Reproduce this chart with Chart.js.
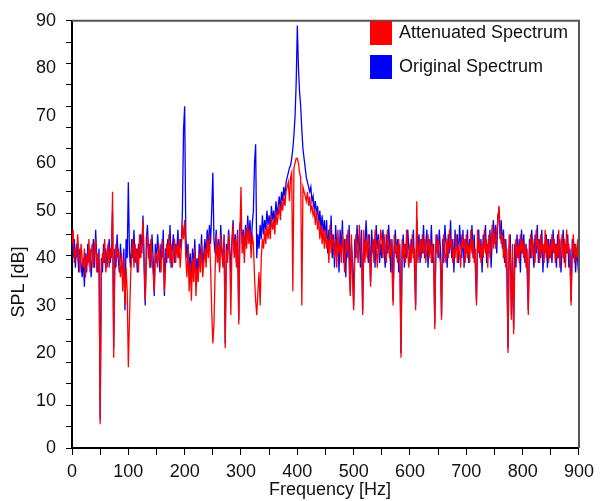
<!DOCTYPE html>
<html>
<head>
<meta charset="utf-8">
<script src="https://cdn.jsdelivr.net/npm/chart.js@4.4.1/dist/chart.umd.min.js"></script>
<style>
  html, body { margin: 0; padding: 0; background: #fff; }
  canvas { display: block; }
</style>
</head>
<body>
<canvas id="spectrum" width="600" height="501"></canvas>
<script>
// spectrum values, one entry every 2 Hz (0..900 Hz)
const stepHz = 2;

const original = [
  45,40,44,38,43,41,37,42,39,36,40,34,41,37,43,39,42,36,40,44,38,46,40,37,42,
  6,40,37,43,39,42,38,41,44,39,42,50,21,42,38,45,40,37,43,39,36,42,29,44,40,
  56,41,38,44,40,46,39,42,37,43,40,45,41,49,38,30,44,47,40,43,38,45,40,32,43,
  39,45,41,37,43,40,46,32,42,39,44,40,47,38,42,45,39,43,41,46,40,44,42,50,67,
  72,45,40,43,37,41,35,42,38,44,36,40,37,43,39,45,38,41,44,40,46,42,47,43,50,
  58,44,41,46,40,44,38,47,42,39,45,22,43,40,46,42,37,44,48,41,45,39,46,27,47,
  48,43,46,41,47,43,49,44,48,42,47,50,60,64,40,45,42,47,44,49,45,48,46,50,47,
  49,46,51,48,50,47,52,49,51,53,50,54,52,55,53,56,57,58,59,59.5,61,63,66,70,77,
  89,80,75,72,67,63,61,59,57,56,55,54,55,52,53,50,52,49,51,47,50,46,49,45,48,
  44,48,41,46,43,49,40,45,38,47,42,44,37,46,41,48,39,44,36,45,40,47,33,43,39,
  30,44,40,47,42,45,38,46,29,44,41,48,43,39,45,35,46,41,44,38,47,42,45,39,43,
  40,46,42,38,45,41,47,43,37,44,31,42,46,40,44,37,43,20,41,45,38,43,40,46,42,
  39,44,41,46,38,30,48,42,45,39,44,41,47,40,43,46,38,44,41,47,39,43,26,42,45,
  40,46,42,28,44,39,47,43,38,45,41,48,40,44,37,46,42,45,39,47,43,40,46,38,44,
  41,46,39,44,42,47,40,45,38,31,43,46,40,44,37,45,42,47,39,43,41,46,38,44,48,
  43,47,41,49,50,44,48,42,46,39,44,37,21,42,45,28,40,25,43,38,45,40,44,37,46,
  41,45,39,43,37,29,44,40,46,42,38,45,41,47,39,44,40,46,37,43,41,45,38,44,40,
  44,39,46,41,43,38,45,40,44,37,42,46,39,43,41,45,38,42,31,44,40,43,37,42,39,
  36
];

const attenuated = [
  43,46,39,42,40,45,41,37,43,40,38,42,36,40,39,44,37,41,43,38,42,44,37,41,39,
  5,37,41,39,44,37,40,43,38,42,40,54,19,38,43,40,42,39,36,41,33,40,30,38,33,
  17,27,36,41,44,38,43,39,42,37,45,40,43,48,40,31,39,45,42,38,44,40,37,33,41,
  41,38,43,40,37,44,41,33,38,43,40,45,39,43,38,41,44,39,43,40,44,38,42,47,44,
  48,40,36,42,33,39,31,40,35,42,32,38,35,41,37,43,36,39,42,38,44,40,45,38,29,
  22,26,37,45,39,43,37,45,41,38,44,21,42,39,45,41,28,43,47,40,44,38,45,26,45,
  55,41,45,39,46,42,47,43,46,40,45,43,36,31,28,33,37,30,40,44,42,46,43,47,44,
  47,44,49,46,48,45,50,47,49,51,48,52,50,53,51,54,55,56,52,57,58,33,59,60,61,
  61,60,58,57,30,55,54,53,52,54,51,53,50,51,49,50,47,50,46,48,44,47,43,46,42,
  46,42,44,39,47,41,45,43,40,44,38,46,41,43,39,45,42,37,44,41,46,38,32,45,36,
  29,40,45,42,39,47,43,41,28,46,39,44,40,45,42,34,41,44,39,46,42,38,44,41,46,
  44,40,45,41,39,46,42,40,44,38,30,45,41,43,39,44,38,19,44,40,43,39,46,41,38,
  43,39,45,40,42,29,52,39,42,44,40,45,41,44,39,42,45,40,44,39,43,40,25,45,41,
  44,41,39,27,42,45,41,39,44,40,46,42,44,39,42,40,45,39,43,41,38,45,42,44,39,
  45,40,43,39,46,41,44,39,42,30,46,41,44,39,43,40,46,41,44,38,45,40,43,47,42,
  46,42,45,48,51,46,43,45,40,44,38,42,20,45,40,27,43,24,39,44,40,43,39,45,41,
  44,40,43,38,42,28,41,45,40,44,41,39,46,42,44,39,45,41,43,39,46,40,44,39,43,
  40,45,41,44,39,43,40,46,38,42,45,40,44,38,46,41,43,39,30,41,45,39,43,40,44,
  32
];

const xLabels = [0, 100, 200, 300, 400, 500, 600, 700, 800, 900];
const yLabels = [0, 10, 20, 30, 40, 50, 60, 70, 80, 90];
const yTickMarks = [0, 4.5, 9, 13.5, 18, 22.5, 27, 31.5, 36, 40.5, 45, 49.5, 54, 58.5, 63, 67.5, 72, 76.5, 81, 85.5, 90];

const legendItems = [
  { text: 'Attenuated Spectrum', color: '#ff0000' },
  { text: 'Original Spectrum', color: '#0000ff' }
];

const freqs = original.map((v, i) => i * stepHz);
const FONT = '"Liberation Sans", Arial, sans-serif';

const framePlugin = {
  id: 'frame',
  afterDraw(chart) {
    const ctx = chart.ctx;
    const a = chart.chartArea;
    ctx.save();
    // top and right frame
    ctx.strokeStyle = '#555555';
    ctx.lineWidth = 2;
    ctx.beginPath();
    ctx.moveTo(a.left, a.top);
    ctx.lineTo(a.right, a.top);
    ctx.lineTo(a.right, a.bottom);
    ctx.stroke();

    // legend
    ctx.font = '18px ' + FONT;
    ctx.textBaseline = 'middle';
    ctx.textAlign = 'left';
    legendItems.forEach((item, i) => {
      const y = 21 + i * 34;
      ctx.fillStyle = item.color;
      ctx.fillRect(370, y, 22, 24);
      ctx.fillStyle = '#111';
      ctx.fillText(item.text, 399, y + 12);
    });

    // axis titles
    ctx.textAlign = 'center';
    ctx.fillText('Frequency [Hz]', 330, 490);
    ctx.translate(19, 282);
    ctx.rotate(-Math.PI / 2);
    ctx.fillText('SPL [dB]', 0, 0);
    ctx.restore();
  }
};

new Chart(document.getElementById('spectrum'), {
  type: 'line',
  data: {
    datasets: [{
      label: legendItems[0].text,
      data: freqs.map((f, i) => ({ x: f, y: attenuated[i] })),
      borderColor: '#ff0000',
      borderWidth: 1.3,
      pointRadius: 0,
      tension: 0
    }, {
      label: legendItems[1].text,
      data: freqs.map((f, i) => ({ x: f, y: original[i] })),
      borderColor: '#0000ff',
      borderWidth: 1.3,
      pointRadius: 0,
      tension: 0
    }]
  },
  options: {
    responsive: false,
    animation: false,
    layout: { padding: { top: 13, right: 19, left: 0, bottom: 0 } },
    plugins: {
      legend: { display: false },
      tooltip: { enabled: false }
    },
    scales: {
      x: {
        type: 'linear',
        min: 0,
        max: 900,
        afterFit: (s) => { s.height = 53; },
        ticks: {
          stepSize: 50,
          autoSkip: false,
          maxRotation: 0,
          padding: 6,
          color: '#111',
          font: { family: FONT, size: 18 },
          callback: (v) => xLabels.includes(v) ? String(v) : ''
        },
        grid: { drawOnChartArea: false, tickLength: 7, tickColor: '#000' },
        border: { color: '#000', width: 2 }
      },
      y: {
        min: 0,
        max: 90,
        afterFit: (s) => { s.width = 72; },
        afterBuildTicks: (s) => {
          const vals = Array.from(new Set(yTickMarks.concat(yLabels))).sort((a, b) => a - b);
          s.ticks = vals.map(v => ({ value: v }));
        },
        ticks: {
          autoSkip: false,
          padding: 10,
          color: '#111',
          font: { family: FONT, size: 18 },
          callback: (v) => yLabels.includes(v) ? String(v) : ''
        },
        grid: {
          drawOnChartArea: false,
          tickLength: 6,
          tickColor: (c) => (c.tick && yTickMarks.includes(c.tick.value)) ? '#000' : 'rgba(0,0,0,0)'
        },
        border: { color: '#000', width: 2 }
      }
    }
  },
  plugins: [framePlugin]
});
</script>
</body>
</html>
